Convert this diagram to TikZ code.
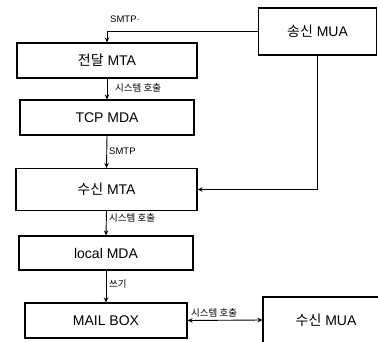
\documentclass[tikz,border=0pt]{standalone}
\usepackage{fontspec}
\setmainfont{Liberation Sans}
\newfontfamily\kr{Noto Sans CJK KR}
\usetikzlibrary{arrows.meta}
\tikzset{
  box/.style={draw=black, line width=1.1pt, rectangle, inner sep=0pt, font=\fontsize{14}{16}\selectfont},
  arr/.style={draw=black, line width=0.9pt, -{Stealth[length=5pt,width=4.5pt]}},
  darr/.style={draw=black, line width=0.9pt, {Stealth[length=5pt,width=4.5pt]}-{Stealth[length=5pt,width=4.5pt]}},
  lbl/.style={inner sep=0pt, font=\fontsize{9.5}{11}\selectfont}
}
\begin{document}
\begin{tikzpicture}[x=1pt,y=-1pt]
\useasboundingbox (0,0) rectangle (378,342);
\clip (0,0) rectangle (378,342);
\fill[white] (0,0) rectangle (378,342);
% boxes
\node[box, minimum width=118pt, minimum height=47pt] (smua) at (317.5,31.5) {{\kr 송신} MUA};
\node[box, minimum width=180pt, minimum height=35pt] (tmta) at (107,60.5) {{\kr 전달} MTA};
\node[box, minimum width=174pt, minimum height=35pt] (tcp) at (107,117.5) {TCP MDA};
\node[box, minimum width=181pt, minimum height=42pt] (rmta) at (106.5,189.5) {{\kr 수신} MTA};
\node[box, minimum width=174pt, minimum height=34pt] (local) at (106,253) {local MDA};
\node[box, minimum width=162pt, minimum height=35pt] (mbox) at (106,320.5) {MAIL BOX};
\node[box, minimum width=126pt, minimum height=46pt] (rmua) at (326,320) {{\kr 수신} MUA};
% connectors
\draw[arr] (smua.west) -| (tmta.north);
\draw[arr] (tmta.south) -- (tcp.north);
\draw[arr] (tcp.south) -- (rmta.north);
\draw[arr] (rmta.south) -- (local.north);
\draw[arr] (local.south) -- (mbox.north);
\draw[arr] (smua.south) |- (rmta.east);
\draw[darr] (mbox.east) -- (rmua.west);
% labels
\node[lbl, anchor=west] (l1) at (110,19) {SMTP·};
\node[lbl, anchor=west] (l2) at (115,88) {\kr 시스템 호출};
\node[lbl, anchor=west] (l3) at (109,151) {SMTP};
\node[lbl, anchor=west] (l4) at (109,218) {\kr 시스템 호출};
\node[lbl, anchor=west] (l5) at (109,284) {\kr 쓰기};
\node[lbl, anchor=west] (l6) at (191,313) {\kr 시스템 호출};
\end{tikzpicture}
\end{document}
